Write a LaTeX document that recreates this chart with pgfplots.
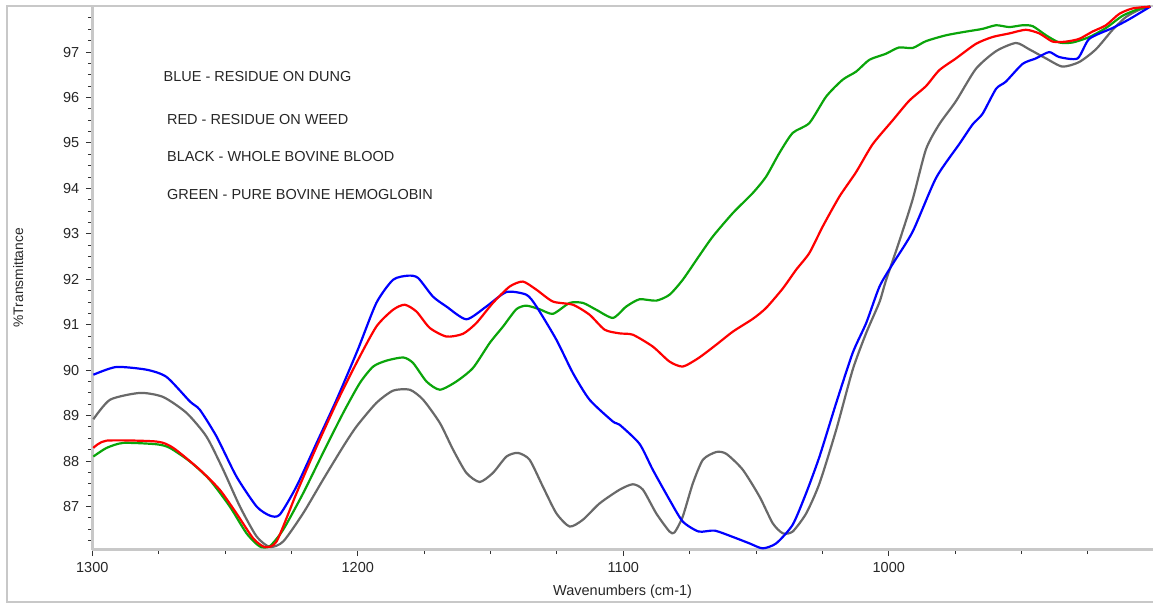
\documentclass[border=0pt]{standalone}
\usepackage{pgfplots}
\pgfplotsset{compat=1.18}
\usepackage{fontspec}
\setmainfont{Liberation Sans}
\definecolor{cblue}{RGB}{0,0,255}
\definecolor{cred}{RGB}{255,0,0}
\definecolor{cgreen}{RGB}{10,165,10}
\definecolor{cgray}{RGB}{105,105,105}
\definecolor{axgray}{RGB}{200,200,200}
\begin{document}
\begin{tikzpicture}
\useasboundingbox (0,0) rectangle (1153pt,603pt);
\draw[axgray, line width=2pt] (1170pt,1.3pt) -- (7.3pt,1.3pt) -- (7.3pt,597.3pt) -- (1170pt,597.3pt);
\begin{axis}[
  at={(92.3pt,53.3pt)}, anchor=south west,
  width=1060.7pt, height=544pt, scale only axis,
  x dir=reverse,
  xmin=900.5, xmax=1300, ymin=86.05, ymax=98.02,
  axis x line=bottom, axis y line=left,
  axis line style={draw=axgray, line width=2.5pt, -},
  tick align=outside,
  major tick length=6.5pt, minor tick length=4.5pt,
  tick style={draw=black!80, line width=1pt},
  xtick={1000,1100,1200,1300},
  minor xtick={925,950,975,1025,1050,1075,1125,1150,1175,1225,1250,1275},
  ytick={87,88,...,97},
  minor ytick={86.25,86.5,86.75,87.25,87.5,87.75,88.25,88.5,88.75,89.25,89.5,89.75,90.25,90.5,90.75,91.25,91.5,91.75,92.25,92.5,92.75,93.25,93.5,93.75,94.25,94.5,94.75,95.25,95.5,95.75,96.25,96.5,96.75,97.25,97.5,97.75},
  /pgf/number format/assume math mode=true,
  /pgf/number format/1000 sep={},
  ticklabel style={font=\fontsize{14.5}{16}\selectfont, text=black!85},
  xticklabel shift=3pt,
  yticklabel shift=3pt,
  xlabel={Wavenumbers (cm-1)},
  ylabel={\%Transmittance},
  xlabel shift=5pt,
  ylabel shift=33pt,
  xlabel style={font=\fontsize{14.5}{16}\selectfont, text=black!85},
  ylabel style={font=\fontsize{13.8}{16}\selectfont, text=black!85},
  every axis plot/.append style={line width=2.2pt, line join=round},
]
\addplot[cgray, smooth, tension=0.4] coordinates {
(1299.6,88.92) (1293.3,89.35) (1282,89.50) (1273.3,89.41) (1264.5,89.06) (1257,88.54) (1250.7,87.81) (1244.4,87.00) (1238.1,86.34) (1233.1,86.11) (1228.1,86.23) (1220.6,86.85) (1213.1,87.59) (1205.5,88.32) (1200.5,88.76) (1193,89.28) (1186.7,89.55) (1180.4,89.57) (1175.4,89.35) (1169.1,88.84) (1164.1,88.25) (1159.1,87.74) (1154.1,87.54) (1149.1,87.74) (1144,88.10) (1139.7,88.18) (1135.3,88.03) (1130.3,87.44) (1125.2,86.85) (1120.2,86.56) (1115.2,86.71) (1108.9,87.07) (1101.4,87.37) (1096.4,87.49) (1092.6,87.37) (1087.6,86.85) (1082.6,86.45) (1080.7,86.43) (1077.6,86.78) (1073.8,87.51) (1070,88.03) (1065,88.20) (1061.2,88.16) (1055,87.81) (1048.7,87.22) (1043.7,86.63) (1039.9,86.41) (1036.2,86.45) (1031.1,86.85) (1026.1,87.51) (1019.8,88.69) (1013.6,90.01) (1008.5,90.82) (1003.5,91.50) (1001.2,91.95) (996.2,92.81) (991,93.76) (986,94.86) (981,95.41) (974.7,95.92) (967.2,96.63) (959.6,97.02) (952.1,97.20) (947.1,97.06) (940.8,96.86) (934.6,96.68) (928.3,96.78) (922,97.06) (915.7,97.49) (910.7,97.77) (905.7,97.93) (901.5,98.00)
};
\addplot[cgreen, smooth, tension=0.4] coordinates {
(1299.6,88.10) (1294.6,88.29) (1288.3,88.40) (1275.8,88.37) (1270.8,88.29) (1263.2,87.99) (1255.8,87.59) (1248.2,87.00) (1241.9,86.41) (1236.9,86.12) (1233.1,86.13) (1228.1,86.49) (1220.6,87.29) (1213.1,88.18) (1205.5,89.06) (1199.2,89.72) (1194.2,90.08) (1189.2,90.21) (1182.9,90.28) (1179.2,90.16) (1174.1,89.75) (1169.1,89.57) (1162.9,89.75) (1156.6,90.05) (1150.3,90.60) (1145.3,90.96) (1140.3,91.34) (1136.5,91.42) (1131.5,91.34) (1126.5,91.24) (1120.2,91.48) (1115.2,91.48) (1110.2,91.33) (1103.9,91.15) (1098.9,91.40) (1093.9,91.56) (1087.6,91.53) (1082.6,91.66) (1077.6,91.99) (1071.6,92.50) (1066.3,92.94) (1058.7,93.46) (1051.2,93.90) (1046.2,94.26) (1041.2,94.78) (1036.2,95.22) (1029.9,95.44) (1023.6,96.02) (1017.4,96.39) (1012.3,96.57) (1007.3,96.83) (1001.2,96.96) (996.2,97.10) (991,97.09) (986,97.24) (978.4,97.37) (970.9,97.45) (964.7,97.51) (959.6,97.59) (954.6,97.55) (949.6,97.59) (945.8,97.57) (940.8,97.37) (935.8,97.21) (930.8,97.21) (924.5,97.33) (918.2,97.53) (911.9,97.80) (905.7,97.95) (901.5,98.00)
};
\addplot[cblue, smooth, tension=0.4] coordinates {
(1299.6,89.90) (1291,90.07) (1279.5,90.01) (1272,89.85) (1263.2,89.31) (1259.5,89.13) (1253.2,88.54) (1245.7,87.66) (1238.1,87.00) (1233.1,86.80) (1229.4,86.82) (1223.1,87.44) (1215.5,88.40) (1208,89.35) (1200,90.45) (1193,91.48) (1186.7,91.99) (1181,92.08) (1177.3,92.03) (1171.7,91.62) (1166.6,91.40) (1159.1,91.12) (1151.6,91.40) (1144,91.72) (1136.5,91.66) (1132.7,91.40) (1125.2,90.67) (1119,89.94) (1112.7,89.35) (1103.9,88.87) (1101.4,88.80) (1093.9,88.38) (1088.9,87.81) (1082.6,87.15) (1077.6,86.67) (1071.6,86.45) (1065.6,86.47) (1058.7,86.33) (1052.5,86.19) (1047.5,86.08) (1042.4,86.19) (1036.2,86.60) (1031.1,87.30) (1026.1,88.10) (1019.8,89.28) (1013.6,90.38) (1008.5,91.04) (1003.5,91.84) (998.5,92.34) (991,93.05) (982.2,94.23) (973.4,94.98) (968.4,95.41) (964.7,95.64) (959.6,96.19) (955.9,96.35) (949.6,96.74) (944.6,96.86) (939.6,97.00) (935.8,96.89) (928.9,96.86) (924.5,97.29) (915.7,97.53) (909.5,97.72) (901.5,98.00)
};
\addplot[cred, smooth, tension=0.4] coordinates {
(1299.6,88.29) (1294.6,88.45) (1275.8,88.43) (1269.5,88.29) (1259.5,87.81) (1252,87.37) (1245.7,86.85) (1239.4,86.30) (1235,86.11) (1230.6,86.23) (1223.1,87.29) (1215.5,88.32) (1208,89.28) (1200.5,90.16) (1193,90.96) (1186.7,91.33) (1182.3,91.44) (1177.9,91.29) (1172.9,90.93) (1166.6,90.74) (1160.4,90.80) (1155.3,91.04) (1149.1,91.48) (1142.8,91.84) (1137.8,91.95) (1132.7,91.77) (1126.5,91.51) (1119,91.44) (1112.7,91.22) (1107,90.89) (1101.4,90.81) (1096.4,90.78) (1088.9,90.52) (1082.6,90.19) (1077.6,90.08) (1071.6,90.27) (1065,90.56) (1058.7,90.85) (1051.2,91.13) (1046.2,91.37) (1039.9,91.80) (1034.9,92.21) (1029.9,92.58) (1024.9,93.16) (1018.6,93.82) (1012.3,94.36) (1006.1,94.97) (998.5,95.50) (992.3,95.93) (986,96.25) (981,96.60) (974.7,96.86) (967.2,97.18) (961,97.33) (954.6,97.41) (948.4,97.49) (943.3,97.41) (938.3,97.23) (933.3,97.23) (928.3,97.29) (923.3,97.45) (918.2,97.59) (913.2,97.84) (908.2,97.96) (901.5,98.00)
};
\begin{scope}[every node/.style={anchor=west, inner sep=0pt, font=\fontsize{14.5}{16}\selectfont, text=black!85}]
\node at (axis cs:1273.2,96.46) {BLUE - RESIDUE ON DUNG};
\node at (axis cs:1271.9,95.51) {RED - RESIDUE ON WEED};
\node at (axis cs:1271.9,94.70) {BLACK - WHOLE BOVINE BLOOD};
\node at (axis cs:1271.9,93.86) {GREEN - PURE BOVINE HEMOGLOBIN};
\end{scope}
\end{axis}
\end{tikzpicture}
\end{document}
